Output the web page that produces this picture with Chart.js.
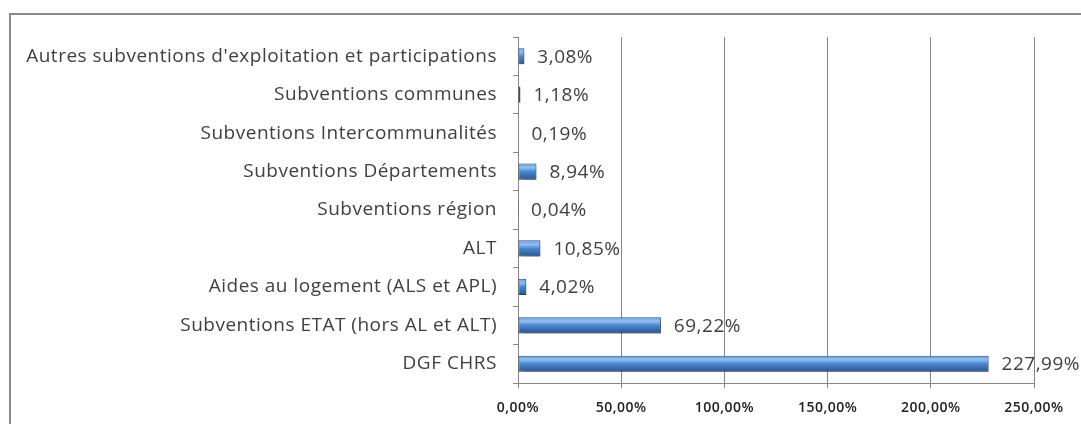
<!DOCTYPE html>
<html>
<head>
<meta charset="utf-8">
<script src="https://cdn.jsdelivr.net/npm/chart.js@4.4.1/dist/chart.umd.min.js"></script>
<style>
  html, body { margin: 0; padding: 0; background: #fff; overflow: hidden; }
  #wrap { position: relative; width: 1081px; height: 424px; }
  #frame { position: absolute; left: 9px; top: 13px; width: 1100px; height: 450px; border: 2px solid #8a8a8a; box-sizing: border-box; }
  #c { position: absolute; left: 0; top: 0; }
</style>
</head>
<body>
<div id="wrap">
  <div id="frame"></div>
  <canvas id="c" width="1081" height="424"></canvas>
</div>
<script>
var categories = [
  "Autres subventions d'exploitation et participations",
  'Subventions communes',
  'Subventions Intercommunalités',
  'Subventions Départements',
  'Subventions région',
  'ALT',
  'Aides au logement (ALS et APL)',
  'Subventions ETAT (hors AL et ALT)',
  'DGF CHRS'
];
var values = [3.08, 1.18, 0.19, 8.94, 0.04, 10.85, 4.02, 69.22, 227.99];
var xTicks = [0, 50, 100, 150, 200, 250];

var FONT = 'Open Sans';

function fmtPct(v) {
  return v.toFixed(2).replace('.', ',') + '%';
}

function barGradient(context) {
  var chart = context.chart;
  var y = chart.scales.y;
  if (!y || context.dataIndex === undefined) return '#4a86c8';
  var cy = y.getPixelForValue(context.dataIndex);
  if (!isFinite(cy)) return '#4a86c8';
  var half = 8;
  var g = chart.ctx.createLinearGradient(0, cy - half, 0, cy + half);
  g.addColorStop(0, '#5f9be0');
  g.addColorStop(0.25, '#93c0f0');
  g.addColorStop(0.5, '#4a87d0');
  g.addColorStop(1, '#27558f');
  return g;
}

var spacingPlugin = {
  id: 'letterSpacing',
  beforeDraw: function(chart) {
    chart.ctx.letterSpacing = '0.5px';
  }
};

var shadowPlugin = {
  id: 'barShadow',
  beforeDatasetDraw: function(chart) {
    var ctx = chart.ctx;
    ctx.save();
    ctx.shadowColor = 'rgba(0,0,0,0.35)';
    ctx.shadowBlur = 4;
    ctx.shadowOffsetX = 2;
    ctx.shadowOffsetY = 3;
  },
  afterDatasetDraw: function(chart) {
    chart.ctx.restore();
  }
};

var labelPlugin = {
  id: 'valueLabels',
  afterDatasetsDraw: function(chart) {
    var ctx = chart.ctx;
    var meta = chart.getDatasetMeta(0);
    ctx.save();
    ctx.font = '19px "' + FONT + '"';
    ctx.fillStyle = '#404040';
    ctx.textAlign = 'left';
    ctx.textBaseline = 'middle';
    meta.data.forEach(function(bar, i) {
      ctx.fillText(fmtPct(values[i]), bar.x + 13, bar.y + 1);
    });
    ctx.restore();
  }
};

new Chart(document.getElementById('c').getContext('2d'), {
  type: 'bar',
  data: {
    labels: categories,
    datasets: [{
      data: values,
      backgroundColor: barGradient,
      borderColor: '#2b4f80',
      borderWidth: 1,
      borderSkipped: false,
      barPercentage: 0.42,
      categoryPercentage: 1
    }]
  },
  plugins: [spacingPlugin, shadowPlugin, labelPlugin],
  options: {
    indexAxis: 'y',
    responsive: false,
    animation: false,
    events: [],
    layout: { padding: { left: 0, right: 47, top: 37, bottom: 0 } },
    plugins: {
      legend: { display: false },
      tooltip: { enabled: false }
    },
    scales: {
      x: {
        min: 0,
        max: 250,
        afterBuildTicks: function(scale) {
          scale.ticks = xTicks.map(function(v) { return { value: v }; });
        },
        afterFit: function(scale) { scale.height = 41; },
        grid: { color: '#868686', lineWidth: 1, tickLength: 5, drawTicks: true },
        border: { color: '#868686', width: 1 },
        ticks: {
          padding: 12,
          color: '#222',
          font: { family: FONT, size: 14, weight: '600' },
          callback: function(v) { return fmtPct(v); }
        }
      },
      y: {
        afterFit: function(scale) { scale.width = 518; },
        grid: { drawOnChartArea: false, color: '#868686', tickLength: 5 },
        border: { color: '#868686', width: 1 },
        ticks: {
          padding: 16,
          color: '#404040',
          font: { family: FONT, size: 19 }
        }
      }
    }
  }
});
</script>
</body>
</html>
